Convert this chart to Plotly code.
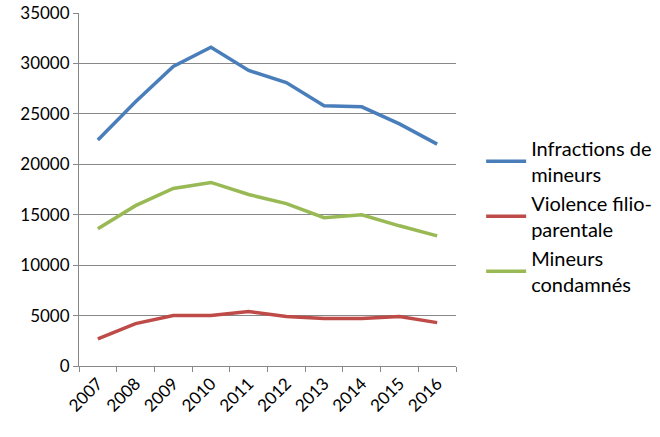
import plotly.graph_objects as go

years = ["2007", "2008", "2009", "2010", "2011", "2012", "2013", "2014", "2015", "2016"]
infractions = [22400, 26200, 29700, 31600, 29300, 28100, 25800, 25700, 24000, 22000]
violence = [2700, 4200, 5000, 5000, 5400, 4900, 4700, 4700, 4900, 4300]
condamnes = [13600, 15900, 17600, 18200, 17000, 16100, 14700, 15000, 13900, 12900]

names = ["Infractions de<br>mineurs", "Violence filio-<br>parentale", "Mineurs<br>condamnés"]
colors = ["#4a7ebb", "#be4b48", "#98b954"]

fig = go.Figure()
for name, vals, c in zip(names, [infractions, violence, condamnes], colors):
    fig.add_trace(go.Scatter(x=years, y=vals, name=name, mode="lines",
                             line=dict(color=c, width=3.5)))

fig.update_layout(
    width=660, height=437,
    margin=dict(l=79, r=204, t=13, b=71, autoexpand=False),
    paper_bgcolor="white", plot_bgcolor="white",
    font=dict(family="Lato, Open Sans, sans-serif", size=17, color="#000"),
    legend=dict(xref="container", yref="container", x=0.729, y=0.505,
                yanchor="middle", xanchor="left",
                font=dict(size=20), tracegroupgap=4, itemwidth=40),
    showlegend=True,
)
fig.update_xaxes(type="category", range=[-0.5, 9.5], showgrid=False, showline=True,
                 linecolor="#888", linewidth=1, ticks="outside", tickson="boundaries",
                 ticklen=5, tickcolor="#888", tickangle=-45, tickfont=dict(size=17),
                 automargin=False)
fig.update_yaxes(range=[0, 35000], dtick=5000, tickformat="d", showgrid=True,
                 gridcolor="#888", gridwidth=1, showline=True, linecolor="#888",
                 ticks="outside", ticklen=5, tickcolor="#888", zeroline=False,
                 tickfont=dict(size=17), automargin=False)

fig.write_html("out.html", config={"displayModeBar": False},
               post_script="document.body.style.margin='0';document.body.style.overflow='hidden';")
